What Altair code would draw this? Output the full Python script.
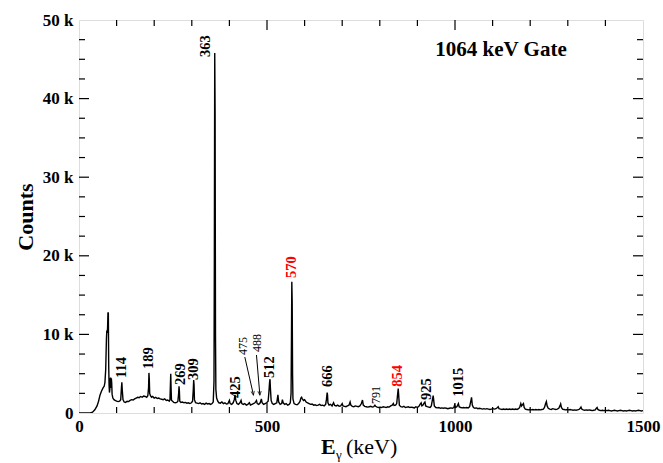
import altair as alt
import pandas as pd

# ---------------- data ----------------
# (energy keV, counts)
spectrum_low = [
    (0, 0), (20, 0), (30, 0), (36, 100), (42, 400), (48, 900), (52, 1500), (56, 2300), (60, 2800),
    (64, 3200), (67, 3400), (69, 3900), (71, 5500), (73, 9500), (74, 10500), (75, 10200), (76, 10800),
    (77, 12700), (78, 12800), (79, 6000), (80, 3500), (81, 2600), (82, 3000), (83, 4300), (84, 4500),
    (85, 3200), (86, 4400), (87, 3800), (88, 2400), (90, 1900), (93, 1700), (96, 1600), (100, 1500),
    (104, 1450), (108, 1500), (111, 1700), (113, 3300), (114, 3900), (115, 3000), (117, 1700),
    (120, 1400), (124, 1350), (128, 1500), (132, 1450), (136, 1600), (140, 1700), (144, 1650),
    (148, 1800), (152, 1900), (156, 2000), (160, 1950), (164, 2100), (168, 2000), (172, 2150),
    (176, 2100), (180, 2000), (183, 2200), (185, 3200), (186, 5100), (187, 4300), (188, 2500),
    (190, 2200), (193, 2000), (196, 2100), (200, 1900), (204, 2000), (208, 1850), (212, 1900),
    (216, 1800), (220, 1750), (224, 1700), (228, 1800), (232, 1600), (236, 1650), (240, 1500),
    (242, 1700), (243, 3500), (244, 5000), (245, 3000), (246, 1600), (249, 1500), (252, 1350),
    (256, 1300), (260, 1350), (263, 1500), (265, 2500), (266, 3400), (267, 2800), (268, 1500),
    (271, 1350), (275, 1400), (279, 1300), (283, 1350), (287, 1250), (291, 1300), (295, 1200),
    (299, 1300), (302, 1500), (304, 3000), (305, 4200), (306, 3600), (307, 1700), (310, 1300),
    (314, 1250), (318, 1200), (322, 1300), (326, 1150), (330, 1200), (334, 1100), (338, 1250),
    (342, 1150), (346, 1200), (350, 1100), (354, 1200), (357, 1400), (359, 4000), (360, 20000),
    (361, 45800), (362, 38000), (363, 10000), (364, 3000), (366, 1900), (369, 1500), (372, 1300),
]
spectrum_mid = [
    (376, 1250), (380, 1400), (384, 1200), (388, 1300), (392, 1150), (396, 1200), (400, 1600),
    (402, 1200), (406, 1100), (410, 1300), (413, 1700), (415, 2300), (417, 1600), (420, 1200),
    (424, 1100), (428, 1300), (431, 1600), (433, 1200), (437, 1100), (441, 1200), (445, 1000),
    (449, 1100), (453, 1300), (456, 1000), (460, 1100), (464, 1200), (468, 1300), (472, 1600),
    (474, 1200), (478, 1100), (482, 1300), (485, 1800), (487, 1300), (491, 1100), (495, 1200),
    (499, 1300), (503, 1500), (505, 2600), (507, 4000), (508, 4300), (509, 3200), (511, 1600),
    (514, 1200), (518, 1100), (522, 1200), (526, 1300), (529, 2300), (531, 1400), (535, 1100),
    (539, 1200), (541, 1700), (543, 1300), (547, 1100), (551, 1200), (555, 1000), (559, 1100),
    (562, 1300), (564, 2500), (565, 9000), (566, 16700), (567, 14000), (568, 5000), (569, 1800),
    (572, 1200), (576, 1100), (580, 1050), (584, 1200), (588, 1500), (590, 1900), (592, 2000),
    (594, 1800), (597, 1600), (600, 1700), (604, 1400), (608, 1300), (612, 1200), (616, 1100),
    (620, 1150), (624, 1000), (628, 1050), (632, 950), (636, 1000), (640, 1100), (644, 950),
    (648, 1000), (652, 900), (656, 1100), (658, 1700), (660, 2600), (661, 2300), (662, 1300),
    (665, 1000), (669, 1100), (673, 900), (677, 1300), (680, 950), (684, 900), (688, 1000),
    (692, 850), (696, 900), (700, 1200), (702, 900), (706, 850), (710, 800), (714, 900),
    (718, 1000), (721, 1400), (723, 1000), (727, 850), (731, 800), (735, 900), (739, 850),
    (743, 800), (747, 900), (751, 1200), (754, 1650), (756, 1000), (760, 850), (764, 800),
    (768, 750), (772, 800), (776, 850), (780, 750), (784, 800), (787, 1000), (789, 850),
    (793, 750), (797, 700), (801, 750), (805, 700), (809, 800), (813, 750), (817, 700),
    (821, 800), (825, 750), (829, 900), (833, 1000), (836, 1200), (838, 950), (842, 1000),
    (845, 1200), (847, 2200), (849, 3100), (850, 2400), (852, 1000), (856, 800), (860, 750),
    (864, 850), (868, 700), (872, 750), (876, 800), (880, 700), (884, 750), (888, 700),
    (892, 650), (896, 800), (900, 700), (904, 850), (907, 1100), (910, 1300), (912, 900),
    (915, 1000), (918, 1300), (920, 1400), (922, 900), (926, 800), (930, 750), (934, 700),
    (937, 900), (940, 1700), (942, 2200), (943, 1800), (945, 900), (949, 700), (953, 650),
]
spectrum_high = [
    (957, 700), (961, 600), (965, 650), (969, 600), (973, 650), (977, 600), (981, 550), (985, 600),
    (989, 650), (993, 600), (997, 700), (999, 1000), (1001, 700), (1005, 800), (1009, 1200),
    (1011, 800), (1015, 700), (1019, 650), (1023, 700), (1027, 650), (1031, 700), (1035, 650),
    (1039, 800), (1042, 1500), (1044, 2000), (1046, 1000), (1049, 700), (1053, 600), (1057, 650),
    (1061, 550), (1065, 600), (1069, 550), (1073, 500), (1077, 550), (1081, 500), (1085, 550),
    (1089, 500), (1093, 450), (1097, 500), (1101, 550), (1105, 500), (1109, 550), (1113, 700),
    (1115, 800), (1117, 550), (1121, 500), (1125, 450), (1129, 500), (1133, 450), (1137, 500),
    (1141, 450), (1145, 500), (1149, 450), (1153, 500), (1157, 450), (1161, 500), (1165, 450),
    (1169, 550), (1172, 700), (1175, 1200), (1177, 900), (1180, 1100), (1182, 1200), (1184, 700),
    (1187, 500), (1191, 450), (1195, 400), (1199, 450), (1203, 400), (1207, 450), (1211, 400),
    (1215, 450), (1219, 400), (1223, 450), (1227, 400), (1231, 450), (1235, 500), (1238, 700),
    (1241, 1200), (1243, 1450), (1245, 900), (1248, 600), (1252, 500), (1256, 450), (1260, 550),
    (1264, 500), (1268, 450), (1272, 500), (1276, 600), (1279, 900), (1281, 1150), (1283, 700),
    (1286, 500), (1290, 450), (1294, 400), (1298, 450), (1302, 400), (1306, 450), (1310, 400),
    (1314, 350), (1318, 400), (1322, 350), (1326, 400), (1330, 450), (1333, 600), (1335, 750),
    (1337, 500), (1341, 400), (1345, 350), (1349, 400), (1353, 350), (1357, 400), (1361, 350),
    (1365, 300), (1369, 350), (1373, 400), (1376, 600), (1378, 700), (1380, 450), (1384, 350),
    (1388, 300), (1392, 350), (1396, 300), (1400, 350), (1404, 300), (1408, 350), (1412, 300),
    (1416, 250), (1420, 300), (1424, 350), (1428, 300), (1432, 250), (1436, 300), (1440, 350),
    (1444, 300), (1448, 250), (1452, 300), (1456, 250), (1460, 300), (1464, 350), (1468, 300),
    (1472, 250), (1476, 300), (1480, 250), (1484, 300), (1488, 350), (1492, 300), (1496, 250),
    (1500, 300),
]

# peak labels: (text, energy where label sits, counts where label starts)
black_labels = [
    ("363", 337, 45300), ("114", 114, 4450), ("189", 186, 5600), ("269", 270, 3560),
    ("309", 306, 4200), ("425", 418, 1900), ("512", 508, 4450), ("666", 661, 3300),
    ("925", 925, 1650), ("1015", 1011, 2070),
]
red_labels = [("570", 566, 17170), ("854", 848, 3350)]
small_labels = [("475", 435, 7380), ("488", 473, 7760), ("791", 790, 1145)]
# arrows: (start energy, start counts, end energy, end counts)
arrows = [(441, 7120, 464, 2290), (472, 7380, 481, 2290)]

x_major = [500, 1000]
x_minor = [100, 200, 300, 400, 600, 700, 800, 900, 1100, 1200, 1300, 1400]
y_major = [10000, 20000, 30000, 40000]
y_minor = [2500, 5000, 7500, 12500, 15000, 17500, 22500, 25000, 27500,
           32500, 35000, 37500, 42500, 45000, 47500]

gate_text = "1064 keV Gate"

# ---------------- chart ----------------
W, H = 564, 393
FONT = "Liberation Serif"

spec = pd.DataFrame(spectrum_low + spectrum_mid + spectrum_high, columns=["E", "C"])
xs = alt.Scale(domain=[0, 1500], nice=False, zero=False)
ys = alt.Scale(domain=[0, 50000], nice=False)

line = alt.Chart(spec).mark_line(color="black", strokeWidth=1.4, clip=True).encode(
    x=alt.X("E:Q", scale=xs,
            axis=alt.Axis(values=[0, 500, 1000, 1500], ticks=False, grid=False, domain=False,
                          format="d",
                          labelFont=FONT, labelFontWeight="bold", labelFontSize=17,
                          labelColor="black", labelPadding=5, labelFlush=False, title=None)),
    y=alt.Y("C:Q", scale=ys,
            axis=alt.Axis(values=[0, 10000, 20000, 30000, 40000, 50000], ticks=False, grid=False,
                          domain=False, labelFont=FONT, labelFontWeight="bold", labelFontSize=17,
                          labelColor="black", labelPadding=6, labelFlush=False,
                          labelExpr="datum.value == 0 ? '0' : format(datum.value/1000, 'd') + ' k'",
                          title="Counts", titleFont=FONT, titleFontSize=22, titleFontWeight="bold",
                          titleColor="black", titlePadding=5)),
)

def tick_layer(vals, ch, length, side):
    df = pd.DataFrame({"v": vals})
    base = alt.Chart(df).mark_rule(color="black", strokeWidth=1.2)
    if ch == "x":
        if side == "bottom":
            return base.encode(x=alt.X("v:Q", scale=xs), y=alt.value(H), y2=alt.value(H - length))
        return base.encode(x=alt.X("v:Q", scale=xs), y=alt.value(0), y2=alt.value(length))
    if side == "left":
        return base.encode(y=alt.Y("v:Q", scale=ys), x=alt.value(0), x2=alt.value(length))
    return base.encode(y=alt.Y("v:Q", scale=ys), x=alt.value(W), x2=alt.value(W - length))

ticks = [
    tick_layer(x_major, "x", 10, "bottom"), tick_layer(x_major, "x", 10, "top"),
    tick_layer(x_minor, "x", 6, "bottom"), tick_layer(x_minor, "x", 6, "top"),
    tick_layer(y_major, "y", 10, "left"), tick_layer(y_major, "y", 10, "right"),
    tick_layer(y_minor, "y", 6, "left"), tick_layer(y_minor, "y", 6, "right"),
]

def label_layer(items, color, size, weight):
    df = pd.DataFrame(items, columns=["t", "E", "C"])
    return alt.Chart(df).mark_text(angle=270, align="left", baseline="middle", font=FONT,
                                   fontSize=size, fontWeight=weight, color=color).encode(
        x=alt.X("E:Q", scale=xs), y=alt.Y("C:Q", scale=ys), text="t:N")

labels = [
    label_layer(black_labels, "black", 14.5, "bold"),
    label_layer(red_labels, "#ff0000", 14.5, "bold"),
    label_layer(small_labels, "black", 12, "normal"),
]

adf = pd.DataFrame(arrows, columns=["E1", "C1", "E2", "C2"])
arrow_lines = alt.Chart(adf).mark_rule(color="black", strokeWidth=1).encode(
    x=alt.X("E1:Q", scale=xs), y=alt.Y("C1:Q", scale=ys), x2="E2:Q", y2="C2:Q")
adf["ang"] = [348, 355]
arrow_heads = alt.Chart(adf).mark_point(
    shape="M-0.45,-1L0,0L0.45,-1", filled=False, color="black", strokeWidth=1, size=60).encode(
    x=alt.X("E2:Q", scale=xs), y=alt.Y("C2:Q", scale=ys), angle=alt.Angle("ang:Q", scale=None))

one = alt.Data(values=[{}])
gate = alt.Chart(one).mark_text(font=FONT, fontSize=21, fontWeight="bold", color="black",
                                align="center", baseline="alphabetic").encode(
    x=alt.value(422), y=alt.value(36), text=alt.value(gate_text))
title_E = alt.Chart(one).mark_text(font=FONT, fontSize=22, fontWeight="bold", color="black",
                                   align="left", baseline="alphabetic").encode(
    x=alt.value(242), y=alt.value(434), text=alt.value("E"))
title_g = alt.Chart(one).mark_text(font=FONT, fontSize=13, color="black",
                                   align="left", baseline="alphabetic").encode(
    x=alt.value(257), y=alt.value(439), text=alt.value("γ"))
title_k = alt.Chart(one).mark_text(font=FONT, fontSize=22, color="black",
                                   align="left", baseline="alphabetic").encode(
    x=alt.value(267), y=alt.value(434), text=alt.value("(keV)"))

chart = alt.layer(line, *ticks, *labels, arrow_lines, arrow_heads, gate, title_E, title_g, title_k).properties(
    width=W, height=H,
    autosize=alt.AutoSizeParams(type="none"),
    padding={"left": 79, "top": 20, "right": 20, "bottom": 50},
).configure_view(stroke="black", strokeWidth=2).configure(background="white")

chart.save("out.html", embed_options={"renderer": "svg", "actions": False})
